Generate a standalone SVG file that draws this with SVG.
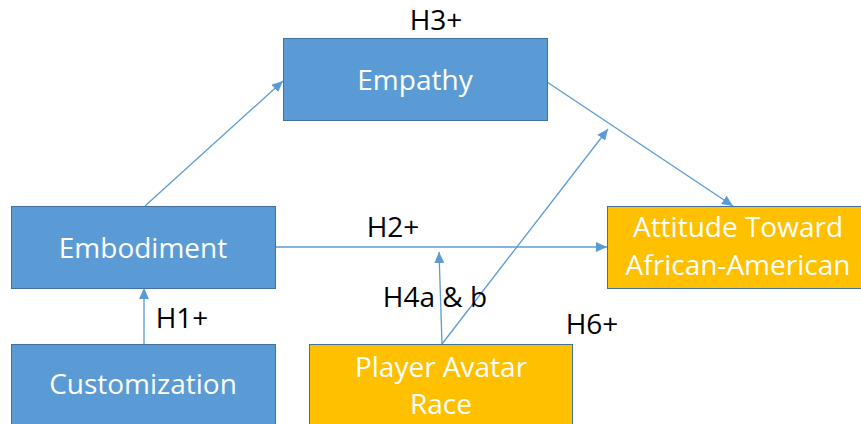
<svg xmlns="http://www.w3.org/2000/svg" width="861" height="424" viewBox="0 0 861 424">
  <style>
    .box-blue { fill: #5B9BD5; stroke: #41719C; stroke-width: 1; }
    .box-gold { fill: #FFC000; stroke: #41719C; stroke-width: 1; }
    .node-text { font-family: "Open Sans", "Liberation Sans", sans-serif; font-size: 28px; fill: #FFFFFF; text-anchor: middle; }
    .label { font-family: "Open Sans", "Liberation Sans", sans-serif; font-size: 28px; fill: #000000; text-anchor: middle; }
    .link { stroke: #5B9BD5; stroke-width: 1.3; fill: none; marker-end: url(#arrow); }
  </style>
  <defs>
    <marker id="arrow" markerUnits="userSpaceOnUse" markerWidth="12" markerHeight="10" refX="11" refY="5" orient="auto">
      <path d="M0,0 L11,5 L0,10 Z" fill="#5B9BD5"/>
    </marker>
  </defs>
  <rect width="861" height="424" fill="#FFFFFF"/>

  <g id="connectors">
    <line class="link" x1="145" y1="206" x2="283" y2="81"/>
    <line class="link" x1="547" y1="82" x2="733" y2="206"/>
    <line class="link" x1="275" y1="247" x2="607" y2="247"/>
    <line class="link" x1="144" y1="344" x2="144" y2="288"/>
    <line class="link" x1="442" y1="344" x2="439" y2="252"/>
    <line class="link" x1="442" y1="344" x2="608" y2="129"/>
  </g>

  <g id="labels">
    <text class="label" x="436" y="30">H3+</text>
    <text class="label" x="393" y="237">H2+</text>
    <text class="label" x="182" y="328">H1+</text>
    <text class="label" x="435" y="307">H4a &amp; b</text>
    <text class="label" x="592" y="334">H6+</text>
  </g>

  <g id="empathy">
    <rect class="box-blue" x="283.5" y="38.5" width="264" height="82"/>
    <text class="node-text" x="415" y="90">Empathy</text>
  </g>

  <g id="embodiment">
    <rect class="box-blue" x="11.5" y="206.5" width="264" height="82"/>
    <text class="node-text" x="143" y="258">Embodiment</text>
  </g>

  <g id="customization">
    <rect class="box-blue" x="11.5" y="344.5" width="264" height="90"/>
    <text class="node-text" x="143" y="394">Customization</text>
  </g>

  <g id="player-avatar-race">
    <rect class="box-gold" x="309.5" y="344.5" width="263" height="90"/>
    <text class="node-text" x="441" y="377">Player Avatar</text>
    <text class="node-text" x="441" y="414">Race</text>
  </g>

  <g id="attitude">
    <rect class="box-gold" x="607.5" y="206.5" width="263" height="82"/>
    <text class="node-text" x="738" y="237">Attitude Toward</text>
    <text class="node-text" x="738" y="275">African-American</text>
  </g>
</svg>
